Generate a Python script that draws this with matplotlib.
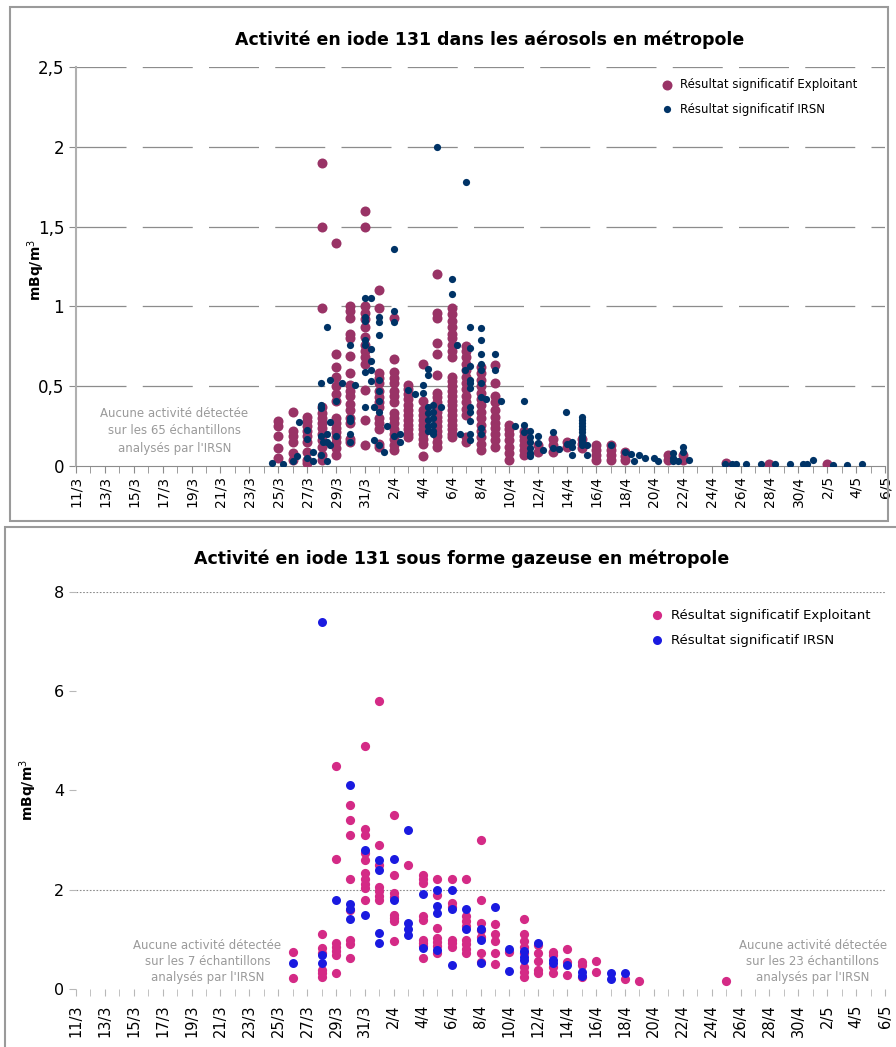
import numpy as np
import matplotlib
matplotlib.use("Agg")
import matplotlib.pyplot as plt
from matplotlib.patches import Rectangle

# days counted from 11/3 (day 0) up to 6/5 (day 56)
tick_days = list(range(0, 57, 2))
tick_labels = ["11/3", "13/3", "15/3", "17/3", "19/3", "21/3", "23/3", "25/3",
               "27/3", "29/3", "31/3", "2/4", "4/4", "6/4", "8/4", "10/4",
               "12/4", "14/4", "16/4", "18/4", "20/4", "22/4", "24/4", "26/4",
               "28/4", "30/4", "2/5", "4/5", "6/5"]

# --- aerosols, exploitant results (one column per day)
aero_exp_days = [14, 15, 16, 17, 18, 19, 20, 21, 22, 23, 24, 25, 26, 27, 28, 29,
                 30, 31, 32, 33, 34, 35, 36, 37, 38, 41, 42, 45, 48, 52]
aero_exp_vals = [
    [0.28, 0.25, 0.19, 0.11, 0.05],
    [0.34, 0.22, 0.19, 0.15, 0.08, 0.04],
    [0.31, 0.28, 0.25, 0.22, 0.19, 0.15, 0.09, 0.04, 0.02],
    [1.9, 1.5, 0.99, 0.37, 0.33, 0.30, 0.27, 0.24, 0.20, 0.16, 0.12, 0.07, 0.04],
    [1.40, 0.70, 0.62, 0.56, 0.50, 0.45, 0.41, 0.30, 0.27, 0.24, 0.21, 0.18, 0.15, 0.11, 0.07],
    [1.0, 0.97, 0.93, 0.83, 0.80, 0.69, 0.58, 0.51, 0.47, 0.44, 0.39, 0.35, 0.30, 0.27, 0.17, 0.15],
    [1.6, 1.5, 1.0, 0.96, 0.92, 0.87, 0.81, 0.76, 0.72, 0.68, 0.64, 0.475, 0.29, 0.13],
    [1.1, 0.99, 0.58, 0.55, 0.52, 0.47, 0.43, 0.40, 0.37, 0.30, 0.27, 0.23, 0.14, 0.12],
    [0.93, 0.67, 0.59, 0.55, 0.52, 0.47, 0.44, 0.40, 0.33, 0.30, 0.27, 0.23, 0.20, 0.17, 0.13, 0.10],
    [0.51, 0.48, 0.45, 0.42, 0.38, 0.35, 0.32, 0.29, 0.26, 0.23, 0.20, 0.18],
    [0.64, 0.41, 0.35, 0.32, 0.29, 0.26, 0.23, 0.20, 0.17, 0.14, 0.06],
    [1.2, 0.96, 0.93, 0.77, 0.70, 0.57, 0.46, 0.43, 0.40, 0.37, 0.34, 0.31, 0.28, 0.25, 0.22, 0.19, 0.15, 0.12],
    [0.99, 0.95, 0.91, 0.87, 0.83, 0.80, 0.76, 0.72, 0.68, 0.56, 0.53, 0.50, 0.47, 0.44,
     0.41, 0.38, 0.35, 0.32, 0.29, 0.26, 0.23, 0.20, 0.18],
    [0.75, 0.72, 0.68, 0.64, 0.60, 0.56, 0.52, 0.48, 0.44, 0.40, 0.36, 0.32, 0.18, 0.15],
    [0.62, 0.58, 0.54, 0.50, 0.46, 0.42, 0.38, 0.34, 0.30, 0.26, 0.22, 0.18, 0.14, 0.10],
    [0.63, 0.52, 0.44, 0.40, 0.35, 0.31, 0.27, 0.24, 0.20, 0.16, 0.12],
    [0.26, 0.23, 0.20, 0.16, 0.12, 0.08, 0.04],
    [0.22, 0.19, 0.16, 0.13, 0.10, 0.07],
    [0.13, 0.09],
    [0.17, 0.13, 0.09],
    [0.15, 0.12],
    [0.17, 0.14, 0.11],
    [0.13, 0.10, 0.07, 0.04],
    [0.13, 0.10, 0.07, 0.04],
    [0.09, 0.06, 0.04],
    [0.07, 0.04],
    [0.07, 0.04],
    [0.016],
    [0.01],
    [0.01],
]

# --- aerosols, IRSN results (sampling time as fractional day)
aero_irsn_day = [13.6, 14.35, 15.0, 15.3, 15.45, 16.0, 16.0, 16.0, 16.4, 16.4,
                 16.96, 16.96, 16.96, 16.96, 16.96, 17.1, 17.4, 17.4, 17.4, 17.4,
                 17.6, 17.6, 17.6, 18.0, 18.0, 18.4, 19.0, 19.0, 19.0, 19.0, 19.0, 19.3,
                 20.0, 20.0, 20.0, 20.0, 20.0, 20.0, 20.0, 20.4, 20.4, 20.4, 20.4, 20.4,
                 20.6, 20.6, 21.0, 21.0, 21.0, 21.0, 21.0, 21.0, 21.0, 21.0, 21.3, 21.5,
                 22.0, 22.0, 22.0, 22.0, 22.4, 22.4, 23.0, 23.5, 24.0, 24.0,
                 24.4, 24.4, 24.4, 24.4, 24.4, 24.4, 24.4,
                 24.7, 24.7, 24.7, 24.7, 24.7, 24.7, 25.0, 25.3, 26.0, 26.0, 26.4, 26.6, 26.9,
                 27.0, 27.3, 27.3, 27.3, 27.3, 27.3, 27.3, 27.3, 27.3, 27.3, 27.3, 27.3,
                 28.0, 28.0, 28.0, 28.0, 28.0, 28.0, 28.0, 28.0, 28.0, 28.4, 29.0, 29.0, 29.4,
                 30.4, 31.0, 31.0, 31.0, 31.4, 31.4, 31.4, 31.4, 31.4, 31.4, 31.95, 31.95,
                 32.3, 33.0, 33.0, 33.4, 33.95, 34.0, 34.3, 34.3, 34.3,
                 35.0, 35.0, 35.0, 35.0, 35.0, 35.0, 35.0, 35.0, 35.0, 35.0, 35.4, 35.4,
                 37.0, 38.0, 38.4, 38.6, 39.0, 39.4, 40.0, 40.3, 41.3, 41.3, 41.3, 41.7,
                 42.0, 42.0, 42.4, 44.9, 45.4, 45.7, 46.4, 47.4, 48.4, 49.4, 50.3, 50.6,
                 51.0, 52.4, 53.4, 54.4]
aero_irsn_val = [0.017, 0.01, 0.03, 0.06, 0.275, 0.225, 0.17, 0.05, 0.085, 0.03,
                 0.52, 0.38, 0.365, 0.185, 0.07, 0.15, 0.87, 0.15, 0.2, 0.03,
                 0.54, 0.275, 0.13, 0.41, 0.185, 0.52, 0.756, 0.30, 0.28, 0.2, 0.15, 0.51,
                 1.05, 0.935, 0.91, 0.79, 0.76, 0.59, 0.37, 1.05, 0.73, 0.66, 0.6, 0.53,
                 0.37, 0.16, 0.935, 0.9, 0.82, 0.54, 0.47, 0.41, 0.34, 0.13, 0.085, 0.25,
                 1.36, 0.97, 0.9, 0.19, 0.15, 0.2, 0.475, 0.45, 0.51, 0.455,
                 0.61, 0.57, 0.37, 0.33, 0.29, 0.25, 0.22,
                 0.38, 0.34, 0.30, 0.26, 0.22, 0.20, 2.0, 0.37, 1.17, 1.08, 0.76, 0.2, 0.6,
                 1.78, 0.87, 0.74, 0.625, 0.54, 0.52, 0.49, 0.37, 0.34, 0.28, 0.20, 0.16,
                 0.865, 0.79, 0.70, 0.64, 0.6, 0.52, 0.43, 0.24, 0.20, 0.42, 0.70, 0.6, 0.41,
                 0.25, 0.41, 0.26, 0.21, 0.22, 0.18, 0.15, 0.11, 0.08, 0.06, 0.19, 0.145,
                 0.10, 0.21, 0.11, 0.105, 0.34, 0.14, 0.15, 0.12, 0.07,
                 0.31, 0.29, 0.27, 0.25, 0.23, 0.21, 0.19, 0.17, 0.15, 0.13, 0.13, 0.07,
                 0.13, 0.09, 0.075, 0.03, 0.07, 0.05, 0.05, 0.03, 0.08, 0.05, 0.03, 0.03,
                 0.12, 0.09, 0.04, 0.015, 0.01, 0.01, 0.015, 0.015, 0.015, 0.01, 0.01, 0.01,
                 0.04, 0.005, 0.005, 0.01]

# --- gaseous iodine, exploitant
gas_exp_days = [15, 17, 18, 19, 20, 21, 22, 23, 24, 25, 26, 27, 28, 29, 30, 31, 32,
                33, 34, 35, 36, 38, 39, 45]
gas_exp_vals = [
    [0.75, 0.23],
    [1.11, 0.82, 0.72, 0.38, 0.32, 0.25],
    [4.49, 2.61, 0.93, 0.85, 0.77, 0.68, 0.32],
    [3.70, 3.40, 3.10, 2.21, 1.60, 0.99, 0.90, 0.62],
    [4.89, 3.22, 3.10, 2.73, 2.60, 2.33, 2.22, 2.12, 2.04, 1.79],
    [5.80, 2.90, 2.50, 2.05, 1.97, 1.88, 1.79],
    [3.50, 2.30, 1.93, 1.86, 1.49, 1.43, 1.36, 0.97],
    [2.50],
    [2.30, 2.22, 2.13, 1.46, 1.39, 0.99, 0.93, 0.87, 0.62],
    [2.21, 1.89, 1.22, 1.03, 0.95, 0.87, 0.72],
    [2.21, 1.73, 1.66, 0.99, 0.92, 0.85],
    [2.21, 1.46, 1.36, 1.26, 0.99, 0.90, 0.81, 0.72],
    [3.00, 1.79, 1.32, 1.19, 1.05, 0.72, 0.55],
    [1.30, 1.11, 0.96, 0.72, 0.51],
    [0.75],
    [1.41, 1.11, 0.96, 0.85, 0.72, 0.45, 0.35, 0.25],
    [0.88, 0.72, 0.57, 0.38, 0.32],
    [0.74, 0.68, 0.45, 0.33],
    [0.81, 0.55, 0.28],
    [0.55, 0.48, 0.25],
    [0.57, 0.34],
    [0.20],
    [0.17],
    [0.17],
]

# --- gaseous iodine, IRSN
gas_irsn_days = [15, 17, 18, 19, 20, 21, 22, 23, 24, 25, 26, 27, 28, 29, 30, 31,
                 32, 33, 34, 35, 37, 38]
gas_irsn_vals = [
    [0.53],
    [7.38, 0.68, 0.52],
    [1.79],
    [4.11, 1.71, 1.62, 1.40],
    [2.80, 1.50],
    [2.60, 2.40, 1.12, 0.93],
    [2.62, 1.79],
    [3.20, 1.32, 1.20, 1.08],
    [1.91, 0.82],
    [2.00, 1.67, 1.54, 0.79],
    [2.00, 1.61, 0.48],
    [1.61, 1.20],
    [1.20, 0.99, 0.53],
    [1.65],
    [0.81, 0.37],
    [0.77, 0.65, 0.58],
    [0.93],
    [0.58, 0.52],
    [0.48],
    [0.35, 0.26],
    [0.33, 0.20],
    [0.33],
]


def expand(days, vals):
    x = [d for d, vs in zip(days, vals) for _ in vs]
    y = [v for vs in vals for v in vs]
    return np.array(x), np.array(y)


fig = plt.figure(figsize=(8.96, 10.47), dpi=100)
plt.rcParams['font.family'] = ['DejaVu Sans']

W, H = 896, 1047
# panel frames
fig.patches.append(Rectangle((10 / W, 1 - 521 / H), 878 / W, 514 / H, transform=fig.transFigure,
                             fill=False, edgecolor='#9a9a9a', linewidth=1.5))
fig.patches.append(Rectangle((5 / W, -0.01), 1.0, 1 - 527 / H + 0.01, transform=fig.transFigure,
                             fill=False, edgecolor='#9a9a9a', linewidth=1.5))

# ---------------- top: aerosols
ax1 = fig.add_axes([76 / W, 1 - 466 / H, 809 / W, 399 / H])
ex, ey = expand(aero_exp_days, aero_exp_vals)
ax1.scatter(ex, ey, s=52, color='#993366', linewidths=0, zorder=3,
            label='Résultat significatif Exploitant')
ax1.scatter(aero_irsn_day, aero_irsn_val, s=27, color='#003366', linewidths=0, zorder=4,
            label='Résultat significatif IRSN')
ax1.set_xlim(0, 56)
ax1.set_ylim(0, 2.5)
ax1.set_yticks([0, 0.5, 1, 1.5, 2, 2.5])
ax1.set_yticklabels(['0', '0,5', '1', '1,5', '2', '2,5'], fontsize=12)
ax1.set_xticks(tick_days)
ax1.set_xticks(range(0, 57), minor=True)
ax1.set_xticklabels(tick_labels, rotation=90, fontsize=10)
for yv in [0.5, 1, 1.5, 2, 2.5]:
    ax1.axhline(yv, color='#8c8c8c', lw=0.9, linestyle=(0, (40, 13)), zorder=1)
for s in ['top', 'right']:
    ax1.spines[s].set_visible(False)
ax1.spines['left'].set_color('#b0b0b0')
ax1.spines['left'].set_linewidth(1.5)
ax1.spines['bottom'].set_color('#8c8c8c')
ax1.tick_params(axis='both', which='both', colors='#8c8c8c', labelcolor='black', length=5)
ax1.tick_params(axis='x', which='major', pad=2)
ax1.set_ylabel('mBq/m$^3$', fontsize=10, fontweight='bold')
ax1.yaxis.set_label_coords(-0.036, 0.49)
ax1.set_title('Activité en iode 131 dans les aérosols en métropole', fontsize=12.5,
              fontweight='bold', pad=16, x=0.511)
ax1.text(6.8, 0.22, "Aucune activité détectée\nsur les 65 échantillons\nanalysés par l'IRSN",
         ha='center', va='center', fontsize=8.5, color='#9a9a9a', linespacing=1.45)
ax1.legend(loc='upper left', bbox_to_anchor=(0.71, 0.985), frameon=False, fontsize=8.5,
           handletextpad=0.1, labelspacing=1.0, scatterpoints=1, borderaxespad=0)

# ---------------- bottom: gaseous
ax2 = fig.add_axes([76 / W, 1 - 989 / H, 809 / W, 397.3 / H])
gx, gy = expand(gas_exp_days, gas_exp_vals)
bx, by = expand(gas_irsn_days, gas_irsn_vals)
ax2.scatter(gx, gy, s=44, color='#d42a86', linewidths=0, zorder=3,
            label='Résultat significatif Exploitant')
ax2.scatter(bx, by, s=42, color='#1a1ae0', linewidths=0, zorder=4,
            label='Résultat significatif IRSN')
ax2.set_xlim(0, 56)
ax2.set_ylim(0, 8)
ax2.set_yticks([0, 2, 4, 6, 8])
ax2.set_yticklabels(['0', '2', '4', '6', '8'], fontsize=11.5)
ax2.set_xticks(tick_days)
ax2.set_xticks(range(0, 57), minor=True)
ax2.set_xticklabels(tick_labels, rotation=90, fontsize=10.5)
for yv in [2, 8]:
    ax2.axhline(yv, color='#8c8c8c', lw=0.8, linestyle=(0, (1.5, 1.5)), zorder=1)
for s in ax2.spines.values():
    s.set_visible(False)
ax2.tick_params(axis='both', which='both', colors='#b8b8b8', labelcolor='black', length=5)
ax2.tick_params(axis='x', which='both', pad=6)
ax2.set_ylabel('mBq/m$^3$', fontsize=10, fontweight='bold')
ax2.yaxis.set_label_coords(-0.046, 0.50)
ax2.set_title('Activité en iode 131 sous forme gazeuse en métropole', fontsize=12.5,
              fontweight='bold', pad=20, x=0.477)
ax2.text(9.1, 0.56, "Aucune activité détectée\nsur les 7 échantillons\nanalysés par l'IRSN",
         ha='center', va='center', fontsize=8.5, color='#9a9a9a', linespacing=1.3)
ax2.text(51.0, 0.56, "Aucune activité détectée\nsur les 23 échantillons\nanalysés par l'IRSN",
         ha='center', va='center', fontsize=8.5, color='#9a9a9a', linespacing=1.3)
ax2.legend(loc='upper left', bbox_to_anchor=(0.695, 0.97), frameon=False, fontsize=9.5,
           handletextpad=0.05, labelspacing=0.9, scatterpoints=1, borderaxespad=0)

fig.savefig('out.png', dpi=100)
